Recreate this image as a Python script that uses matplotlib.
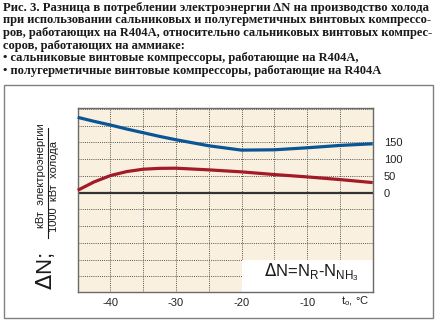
import matplotlib

matplotlib.use("Agg")

import matplotlib.pyplot as plt
from matplotlib.patches import Rectangle

# temperature, °C
t0 = [-45, -42.5, -40, -37.5, -35, -32.5, -30, -25, -20, -15, -10, -5, 0]

# difference in power consumption, kW per 1000 kW of cooling
open_r404a = [7, 32, 51, 63, 70, 72.5, 73, 68, 62, 54, 47, 39, 30]
semi_r404a = [225, 213, 202, 190, 179, 168, 158, 140, 127, 128, 134, 141, 146]

title_lines = [
    "Рис. 3. Разница в потреблении электроэнергии \u0394N на производство холода",
    "при использовании сальниковых и полугерметичных винтовых компрессо-",
    "ров, работающих на R404A, относительно сальниковых винтовых компрес-",
    "соров, работающих на аммиаке:",
    "\u2022 сальниковые винтовые компрессоры, работающие на R404A,",
    "\u2022 полугерметичные винтовые компрессоры, работающие на R404A",
]

narrow = ["Liberation Sans Narrow", "Liberation Sans", "DejaVu Sans"]
serif = ["Liberation Serif", "DejaVu Serif"]

W, H = 440, 323
fig = plt.figure(figsize=(W / 100, H / 100), dpi=100)
fig.patch.set_facecolor("white")
renderer = fig.canvas.get_renderer()

# caption; the first three lines are stretched to the full width
for i, line in enumerate(title_lines):
    txt = fig.text(3 / W, 1 - (7.5 + i * 12.7) / H, line, family=serif,
                   fontweight="bold", fontsize=9, va="center", ha="left",
                   color="#1a1a1a")
    if i < 3:
        width = txt.get_window_extent(renderer).width
        txt.set_fontsize(9 * 429 / width)

# frame round the chart
fig.patches.append(Rectangle((3.5 / W, 5 / H), 429.5 / W, 233 / H,
                             transform=fig.transFigure, fill=False,
                             edgecolor="#808080", linewidth=1))

ax = fig.add_axes([77.7 / W, 31 / H, 295 / W, 183.7 / H])
ax.set_facecolor("#faf0e0")
ax.set_xlim(-45, 0)
ax.set_ylim(-297, 252)

ax.set_xticks(range(-45, 1, 5))
ax.set_xticklabels(["" if v % 10 or v == 0 else str(v)
                    for v in range(-45, 1, 5)])
ax.set_yticks(range(-250, 251, 50))
ax.set_yticklabels([str(v) if 0 <= v <= 150 else ""
                    for v in range(-250, 251, 50)])
ax.yaxis.tick_right()
ax.tick_params(length=0, labelsize=8, colors="#222222")
ax.tick_params(axis="x", pad=4)
ax.tick_params(axis="y", pad=8)
for lab in ax.get_xticklabels() + ax.get_yticklabels():
    lab.set_family(narrow)

ax.grid(True, color="#555555", linewidth=0.7, linestyle=(0, (1, 1.2)))
ax.set_axisbelow(True)
for s in ax.spines.values():
    s.set_color("#6a6a6a")
    s.set_linewidth(1)

# white panel for the formula
ax.add_patch(Rectangle((-20, -300), 20, 100, facecolor="white",
                       edgecolor="none", zorder=1.5))

ax.axhline(0, color="#333333", linewidth=1.6, zorder=2)

ax.plot(t0, semi_r404a, color="#0a5595", linewidth=2.3,
        solid_capstyle="butt", solid_joinstyle="round", zorder=3,
        clip_on=False)
ax.plot(t0, open_r404a, color="#a31b27", linewidth=2.3,
        solid_capstyle="butt", solid_joinstyle="round", zorder=3,
        clip_on=False)

ax.text(-9.3, -237, r"$\Delta$N=N$_\mathregular{R}$-N$_\mathregular{NH_3}$",
        family=narrow, fontsize=12, ha="center", va="center",
        color="#1a1a1a", zorder=4)

fig.text(355 / W, 1 - 301 / H, r"t$_\mathregular{o}$, °C", family=narrow,
         fontsize=8, ha="center", va="center", color="#222222")

# y axis label, rotated
fig.text(45.5 / W, 1 - 271 / H, r"$\Delta$N;", family=narrow, fontsize=16,
         rotation=90, ha="center", va="center", color="#1a1a1a")
fig.text(41 / W, 1 - 176 / H, "кВт  электроэнергии", family=narrow,
         fontsize=8, rotation=90, ha="center", va="center",
         color="#1a1a1a")
fig.text(54 / W, 1 - 186 / H, "1000  кВт  холода", family=narrow,
         fontsize=8, rotation=90, ha="center", va="center",
         color="#1a1a1a")
fig.lines.append(plt.Line2D([47.5 / W, 47.5 / W], [1 - 238 / H, 1 - 128 / H],
                            transform=fig.transFigure, color="#1a1a1a",
                            linewidth=0.8))

fig.savefig("out.png", dpi=100)
